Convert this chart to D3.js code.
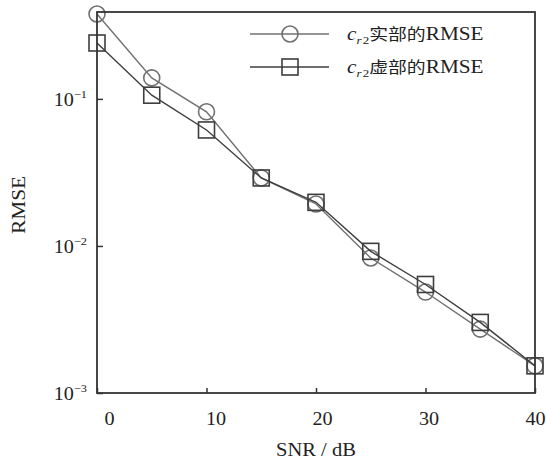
<!DOCTYPE html>
<html>
<head>
<meta charset="utf-8">
<script src="https://cdn.jsdelivr.net/npm/d3@7"></script>
<style>
  html, body { margin: 0; padding: 0; background: #fff; }
  svg { display: block; }
  text { font-family: "Liberation Serif", "Times New Roman", serif; fill: #222; }
  .cjk { font-family: "Noto Sans CJK SC", sans-serif; }
</style>
</head>
<body>
<svg id="chart" width="546" height="465"></svg>
<script>
// SNR sweep (dB) and RMSE of the real / imaginary parts of c_r2
const snr = [0, 5, 10, 15, 20, 25, 30, 35, 40];
const rmseReal = [0.378, 0.139, 0.0817, 0.0290, 0.0193, 0.00828, 0.00486, 0.00272, 0.00153];
const rmseImag = [0.240, 0.106, 0.0615, 0.0290, 0.0198, 0.00919, 0.00547, 0.00302, 0.00153];
const xTicks = [0, 10, 20, 30, 40];
const yTicks = [1e-3, 1e-2, 1e-1];
const yTickExponents = ["−3", "−2", "−1"];
const seriesNames = ["实部的RMSE", "虚部的RMSE"];

const svg = d3.select("#chart");
const plot = { left: 97, right: 535, top: 12, bottom: 393 };
const stretch = 1.12; // glyphs in this figure are drawn slightly wide

const x = d3.scaleLinear().domain([0, 40]).range([plot.left, plot.right]);
const y = d3.scaleLog().domain([1e-3, 0.39]).range([plot.bottom, plot.top]);
// tick labels sit on a slightly offset scale from the tick marks
const xLabel = d3.scaleLinear().domain([0, 40]).range([plot.left + 12, plot.right]);

const frameColor = "#333";
const series = [
  { values: rmseReal, color: "#707070", marker: "circle", name: seriesNames[0] },
  { values: rmseImag, color: "#3e3e3e", marker: "square", name: seriesNames[1] }
];

// inward tick marks
svg.append("g")
  .attr("transform", `translate(0,${plot.bottom})`)
  .call(d3.axisBottom(x).tickValues(xTicks).tickSize(-5).tickFormat(""))
  .call(g => g.select(".domain").remove())
  .call(g => g.selectAll("line").attr("stroke", frameColor).attr("stroke-width", 1.5));

svg.append("g")
  .attr("transform", `translate(${plot.left},0)`)
  .call(d3.axisLeft(y).tickValues(yTicks).tickSize(-6).tickFormat(""))
  .call(g => g.select(".domain").remove())
  .call(g => g.selectAll("line").attr("stroke", frameColor).attr("stroke-width", 1.5));

// x tick labels
const xl = svg.append("g")
  .attr("transform", `translate(0,${plot.bottom + 32})`)
  .call(d3.axisBottom(xLabel).tickValues(xTicks).tickSize(0).tickPadding(0).tickFormat(d3.format("d")));
xl.select(".domain").remove();
xl.selectAll("text")
  .attr("y", 0).attr("dy", 0)
  .attr("fill", "#222")
  .style("font-family", "Liberation Serif, serif")
  .style("font-size", "18px")
  .attr("transform", `scale(${stretch},1)`);

// y tick labels: 10 with superscript exponent
yTicks.forEach((t, i) => {
  const g = svg.append("g")
    .attr("transform", `translate(${plot.left - 10},${y(t) + 7}) scale(${stretch},1)`);
  const txt = g.append("text").attr("text-anchor", "end").style("font-size", "18px");
  txt.append("tspan").text("10");
  txt.append("tspan").attr("dy", -8).style("font-size", "11px").text(yTickExponents[i]);
});

// axis titles
svg.append("g")
  .attr("transform", `translate(${(plot.left + plot.right) / 2},456) scale(1.08,1)`)
  .append("text").attr("text-anchor", "middle").style("font-size", "19px").text("SNR / dB");

svg.append("g")
  .attr("transform", `translate(25,205) rotate(-90) scale(1.12,1)`)
  .append("text").attr("text-anchor", "middle").style("font-size", "19px").text("RMSE");

// series lines and markers
const line = d3.line().x((d, i) => x(snr[i])).y(d => y(d));

function drawMarker(sel, type, color) {
  if (type === "circle") {
    sel.append("circle").attr("r", 8)
      .attr("fill", "none").attr("stroke", color).attr("stroke-width", 1.6);
  } else {
    sel.append("rect").attr("x", -8).attr("y", -8).attr("width", 16).attr("height", 16)
      .attr("fill", "none").attr("stroke", color).attr("stroke-width", 1.6);
  }
}

series.forEach(s => {
  svg.append("path").datum(s.values)
    .attr("d", line)
    .attr("fill", "none").attr("stroke", s.color).attr("stroke-width", 1.4);
  svg.append("g").selectAll("g").data(s.values).join("g")
    .attr("transform", (d, i) => `translate(${x(snr[i])},${y(d)})`)
    .each(function() { drawMarker(d3.select(this), s.marker, s.color); });
});

// frame
svg.append("rect")
  .attr("x", plot.left).attr("y", plot.top)
  .attr("width", plot.right - plot.left).attr("height", plot.bottom - plot.top)
  .attr("fill", "none").attr("stroke", frameColor).attr("stroke-width", 1.8);

// legend
const legend = svg.append("g");
series.forEach((s, i) => {
  const ly = 34 + i * 33;
  const row = legend.append("g").attr("transform", `translate(0,${ly})`);
  row.append("line").attr("x1", 250).attr("x2", 329)
    .attr("stroke", s.color).attr("stroke-width", 1.4);
  drawMarker(row.append("g").attr("transform", "translate(290,0)"), s.marker, s.color);
  const tg = row.append("g").attr("transform", `translate(347,6) scale(1.18,1)`);
  const t = tg.append("text").style("font-size", "18px");
  t.append("tspan").style("font-style", "italic").text("c");
  t.append("tspan").attr("dy", 4).style("font-size", "11px").style("font-style", "italic").text("r");
  t.append("tspan").attr("dx", 1).style("font-size", "11px").text("2");
  t.append("tspan").attr("dy", -4).attr("class", "cjk").style("font-size", "16px")
    .text(s.name.slice(0, 3));
  t.append("tspan").text(s.name.slice(3));
});
</script>
</body>
</html>
